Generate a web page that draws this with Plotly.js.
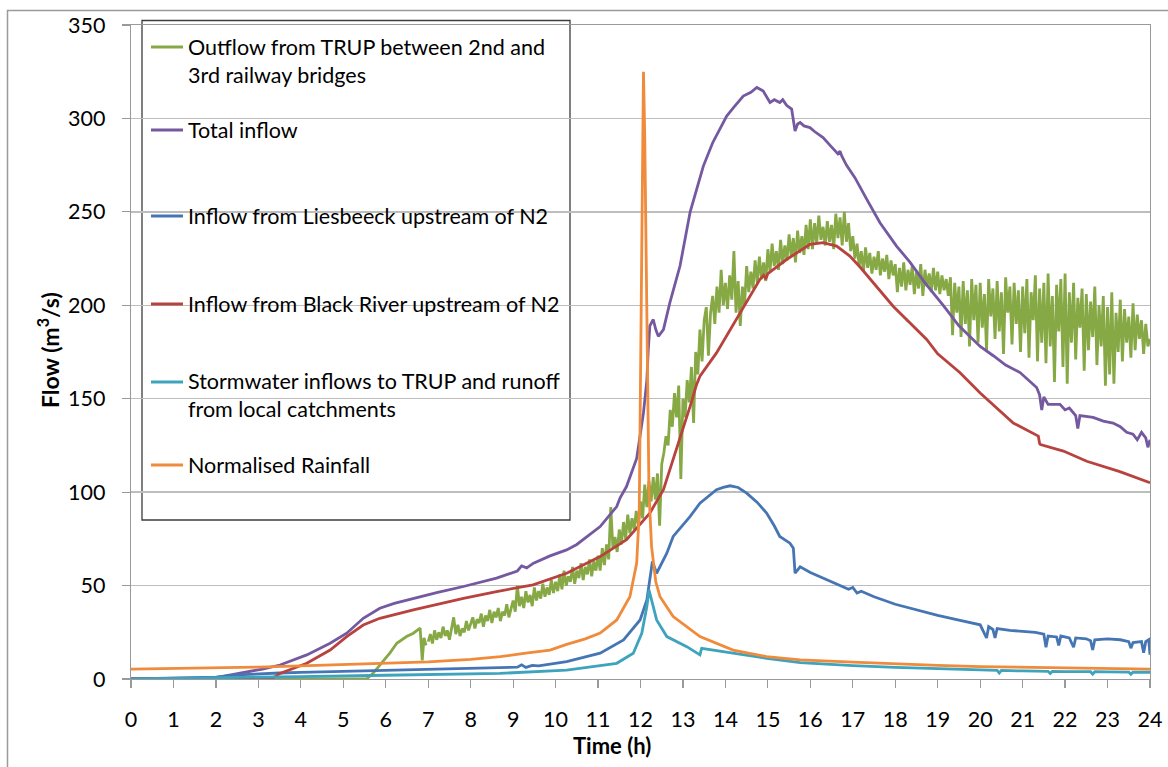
<!DOCTYPE html>
<html>
<head>
<meta charset="utf-8">
<script src="https://cdn.plot.ly/plotly-3.0.1.min.js"></script>
<style>
  html, body { margin: 0; padding: 0; background: #ffffff; }
  #chart { width: 1168px; height: 767px; }
</style>
</head>
<body>
<div id="chart"></div>
<script>
// ---- Series data (time in hours, flow in m3/s) ----

// Outflow from TRUP: initial filling, read point by point
const outflowEarlyT = [0, 3.0, 5.55, 5.7, 5.94, 6.1, 6.26, 6.49, 6.65, 6.81, 6.86, 6.9, 6.95];
const outflowEarlyQ = [0, 0, 0, 3, 9.3, 14, 19.1, 22.7, 24.5, 27.2, 10, 22, 18];

// Outflow from TRUP: logged every 0.05 h from 7 h, one row per hour
const outflowStart = 7.0;
const outflowStep = 0.05;
const outflowH7  = [20,24,19,26,21,25,22,28,23,26,21,27,33,24,29,23,27,25,31,26];
const outflowH8  = [29,33,27,32,30,35,28,34,31,37,30,36,33,38,31,36,34,40,33,38];
const outflowH9  = [42,36,50,39,44,38,47,41,45,39,49,42,47,43,51,44,49,45,53,46];
const outflowH10 = [52,47,56,48,58,50,55,52,60,51,58,54,62,53,60,56,64,55,63,58];
const outflowH11 = [66,58,70,61,72,64,92,70,76,68,80,72,84,75,88,78,86,80,90,82];
const outflowH12 = [95,86,104,92,106,95,108,96,110,82,115,121,130,125,144,135,153,140,157,107];
const outflowH13 = [150,140,160,148,167,137,175,163,187,170,192,199,173,196,205,190,210,196,219,200];
const outflowH14 = [212,198,216,203,229,196,213,189,210,200,221,207,218,209,224,212,226,214,223,213];
const outflowH15 = [230,218,233,221,229,219,235,222,232,224,238,226,236,223,240,228,237,227,243,230];
const outflowH16 = [246,230,244,233,248,235,242,232,245,234,243,230,249,236,247,232,250,234,244,229];
const outflowH17 = [237,225,233,221,229,218,231,220,228,217,226,219,229,216,225,218,227,214,224,216];
const outflowH18 = [222,207,220,210,223,208,219,211,221,206,218,209,222,205,219,210,217,207,220,208];
const outflowH19 = [218,206,216,208,214,205,215,184,212,196,210,183,213,190,208,178,214,192,211,180];
const outflowH20 = [212,188,206,176,214,194,209,182,213,186,207,174,215,196,210,179,212,190,208,175];
const outflowH21 = [210,185,214,172,207,192,216,170,209,180,212,169,217,178,205,159,211,186,214,167];
const outflowH22 = [217,158,207,180,212,171,204,188,209,165,206,176,202,183,210,168,200,178,205,157];
const outflowH23 = [199,163,207,158,196,175,203,170,198,180,194,172,201,176,195,182,192,174,190,178];
const outflowH24 = [182];

// Total inflow
const totalT = [0, 1.5, 2.0, 2.4, 2.72, 3.1, 3.51, 4.14, 4.69, 5.08, 5.47, 5.86, 6.2, 6.65, 7.2, 7.83, 8.61, 9.1, 9.2, 9.32, 9.48, 9.87, 10.26, 10.5, 11.05, 11.44, 11.52, 11.67, 11.91, 12.07, 12.15, 12.18, 12.22, 12.3, 12.36, 12.42, 12.54, 12.69, 12.93, 13.17, 13.4, 13.48, 13.7, 14.03, 14.2, 14.42, 14.6, 14.74, 14.89, 15.05, 15.15, 15.28, 15.35, 15.44, 15.56, 15.6, 15.64, 15.7, 15.76, 15.85, 15.99, 16.1, 16.3, 16.45, 16.54, 16.65, 16.7, 16.74, 16.85, 17.05, 17.33, 17.64, 18.03, 18.35, 18.7, 19.13, 19.5, 19.76, 20.0, 20.31, 20.6, 20.94, 21.2, 21.33, 21.4, 21.45, 21.5, 21.6, 21.88, 22.0, 22.1, 22.25, 22.3, 22.35, 22.66, 22.9, 23.13, 23.3, 23.45, 23.6, 23.7, 23.8, 23.9, 23.95, 24.0];
const totalQ = [0, 0, 0.8, 2.5, 3.9, 5.3, 7.5, 12.9, 19.1, 24.5, 32.5, 37.9, 40.5, 43.2, 46.2, 49.5, 54, 57.8, 60.5, 59.5, 62, 65.9, 69.1, 72, 81.6, 92.3, 97, 103, 118, 142.4, 160, 175, 189, 192.4, 187, 183.4, 187, 201.3, 221, 250, 267.4, 274.5, 287, 301.3, 306, 312, 314, 316.6, 314.7, 308.5, 310, 308.5, 310, 307, 305, 300, 293.3, 297, 297.8, 296, 295.1, 293, 289.7, 286, 283.5, 281, 282.5, 279.9, 275, 268.3, 256.7, 244.2, 231.7, 223, 212, 200, 189, 183, 178, 173, 168, 164, 159, 156, 152, 144, 151, 147, 147, 144, 145, 141, 134, 141, 140, 138, 137, 135, 132, 131, 128, 132, 129, 124, 128];

// Inflow from Liesbeeck upstream of N2
const liesT = [0, 1.0, 2.0, 2.5, 3.0, 3.5, 4.0, 5.0, 6.0, 7.0, 8.0, 8.7, 9.1, 9.2, 9.3, 9.45, 9.6, 10.26, 11.05, 11.6, 11.99, 12.15, 12.28, 12.38, 12.5, 12.62, 12.77, 12.95, 13.17, 13.4, 13.6, 13.79, 13.95, 14.11, 14.3, 14.5, 14.75, 14.97, 15.15, 15.28, 15.52, 15.6, 15.64, 15.76, 16.0, 16.3, 16.6, 16.9, 17.0, 17.1, 17.2, 17.5, 18.0, 18.5, 19.0, 19.5, 20.0, 20.15, 20.2, 20.3, 20.35, 20.4, 20.7, 21.0, 21.3, 21.5, 21.55, 21.6, 21.8, 21.85, 21.9, 22.1, 22.2, 22.25, 22.5, 22.6, 22.65, 22.7, 23.0, 23.3, 23.5, 23.55, 23.6, 23.8, 23.85, 23.9, 23.97, 24.0];
const liesQ = [0, 0.3, 1.0, 2.2, 2.8, 3.2, 3.5, 4.0, 4.5, 5.0, 5.5, 5.9, 6.3, 7.6, 6.2, 7.3, 7.0, 9.3, 13.8, 20.9, 31.6, 42.3, 62.9, 56.6, 62, 67.3, 76.3, 81, 87, 94.1, 98, 101.3, 102.5, 103.4, 102.5, 99.5, 94.5, 88.8, 82, 76.3, 72.7, 70, 56.6, 60, 57, 54, 51, 48, 49, 46, 47, 44, 40, 37, 34, 31.5, 29, 22, 28, 26.5, 22, 27, 26, 25.5, 25, 24, 17, 23, 22.5, 18, 23, 22, 17, 22, 21.5, 20.5, 15.5, 21, 21.5, 21, 20, 16.5, 19.5, 20, 14, 20, 21, 13];

// Inflow from Black River upstream of N2
const blackT = [0, 3.3, 3.51, 3.8, 4.14, 4.69, 5.08, 5.47, 5.86, 6.65, 7.2, 7.83, 8.61, 9.47, 10.26, 11.05, 11.67, 12.22, 12.54, 12.85, 13.17, 13.32, 13.4, 13.79, 14.34, 14.81, 14.9, 14.95, 15.0, 15.44, 15.99, 16.3, 16.62, 16.93, 17.17, 17.95, 18.74, 19.0, 19.52, 20.0, 20.78, 21.37, 21.4, 21.42, 21.96, 22.51, 23.29, 24.0];
const blackQ = [0, 0, 3.0, 5.5, 8.4, 15.5, 22.7, 28.9, 32.5, 37, 40, 43.2, 46.8, 50.4, 56.6, 65.5, 74.5, 88.8, 101.3, 123, 146, 157.5, 162, 174.5, 196, 213.8, 216, 214, 217, 224.5, 232.6, 233.5, 231.7, 226.3, 220.5, 199.5, 181.7, 174, 164, 153, 137, 130, 126, 125.5, 122, 116.5, 111, 105];

// Stormwater inflows to TRUP and runoff from local catchments
const stormT = [0, 2.0, 4.0, 6.0, 8.0, 8.69, 10.26, 11.44, 11.83, 12.03, 12.15, 12.2, 12.38, 12.62, 13.09, 13.4, 13.44, 14.18, 14.97, 15.76, 16.5, 17.0, 18.0, 19.0, 20.0, 20.4, 20.45, 20.5, 21.0, 21.6, 21.65, 21.7, 22.0, 22.6, 22.65, 22.7, 23.0, 23.5, 23.55, 23.6, 24.0];
const stormQ = [0, 0.5, 1.3, 2.0, 2.7, 3.0, 4.8, 8.4, 13.8, 24.5, 38.8, 47.7, 31.6, 22.7, 17.3, 12.9, 16.4, 13.8, 11.1, 8.8, 7.8, 7.2, 6.2, 5.5, 4.8, 4.6, 3.2, 4.6, 4.3, 4.1, 2.9, 4.1, 4.0, 3.9, 2.6, 3.9, 3.8, 3.7, 2.5, 3.7, 3.6];

// Normalised rainfall
const rainT = [0, 1, 2, 3, 4, 5, 6, 7, 8, 8.7, 9.3, 9.87, 10.26, 10.7, 11.05, 11.44, 11.75, 11.91, 11.97, 12.0, 12.03, 12.07, 12.1, 12.14, 12.17, 12.2, 12.26, 12.36, 12.46, 12.77, 13.4, 14.18, 14.97, 15.76, 17, 18, 19, 20, 21, 22, 23, 24];
const rainQ = [5.3, 5.6, 6.0, 6.4, 7.0, 7.6, 8.4, 9.2, 10.5, 12, 13.8, 15.5, 18.5, 21.5, 24.6, 31.6, 44, 62, 89, 150, 240, 325, 290, 200, 140, 100, 71, 52, 44, 33.4, 22.7, 15.5, 12, 10.2, 9, 8, 7.3, 6.6, 6.2, 5.9, 5.6, 5.3];

// Legend labels and colours
const seriesNames = [
  'Outflow from TRUP between 2nd and<br>3rd railway bridges',
  'Total inflow',
  'Inflow from Liesbeeck upstream of N2',
  'Inflow from Black River upstream of N2',
  'Stormwater inflows to TRUP and runoff<br>from local catchments',
  'Normalised Rainfall'
];
const seriesColors = ['#87A945', '#7559A0', '#4675B4', '#B8423D', '#3EA3BD', '#EF8B3B'];

// X axis ticks: hours 0..24
const hourTicks = [0,1,2,3,4,5,6,7,8,9,10,11,12,13,14,15,16,17,18,19,20,21,22,23,24];

const outflowRegular = [].concat(outflowH7, outflowH8, outflowH9, outflowH10, outflowH11,
  outflowH12, outflowH13, outflowH14, outflowH15, outflowH16, outflowH17, outflowH18,
  outflowH19, outflowH20, outflowH21, outflowH22, outflowH23, outflowH24);

const LW = 2.8;
function lineTrace(x, y, color, name) {
  return { x: x, y: y, type: 'scatter', mode: 'lines', name: name,
           line: { color: color, width: LW }, showlegend: false, hoverinfo: 'x+y' };
}

const traces = [
  lineTrace(outflowEarlyT, outflowEarlyQ, seriesColors[0], 'Outflow'),
  { y: outflowRegular, x0: outflowStart, dx: outflowStep, type: 'scatter', mode: 'lines',
    name: 'Outflow', line: { color: seriesColors[0], width: LW }, showlegend: false },
  lineTrace(totalT, totalQ, seriesColors[1], 'Total inflow'),
  lineTrace(liesT, liesQ, seriesColors[2], 'Liesbeeck'),
  lineTrace(blackT, blackQ, seriesColors[3], 'Black River'),
  lineTrace(stormT, stormQ, seriesColors[4], 'Stormwater'),
  lineTrace(rainT, rainQ, seriesColors[5], 'Rainfall')
];

// Plot area: 131..1150 px horizontally, 25..679 px vertically
const L = 131, R = 1150, T = 25, B = 679;
const px = v => (v - L) / (R - L);
const py = v => (B - v) / (B - T);

const FONT = 'Lato, "Open Sans", sans-serif';

// Hand-placed legend box (white panel with a dark border)
const legendRows = [
  { line: 47,  text: 61 },
  { line: 130, text: 130 },
  { line: 216, text: 216 },
  { line: 304, text: 304 },
  { line: 382, text: 394.5 },
  { line: 465, text: 465 }
];

const shapes = [
  // outer chart frame (left and top edges visible)
  { type: 'rect', xref: 'paper', yref: 'paper', x0: px(7.5), x1: px(1200), y0: py(800), y1: py(10.5),
    line: { color: '#9a9a9a', width: 1.5 }, fillcolor: 'rgba(0,0,0,0)', layer: 'below' },
  { type: 'rect', xref: 'paper', yref: 'paper', x0: px(142), x1: px(570), y0: py(520), y1: py(20.5),
    line: { color: '#3c3c3c', width: 1.3 }, fillcolor: '#ffffff', layer: 'between' }
];
const annotations = [];
legendRows.forEach((r, i) => {
  shapes.push({ type: 'line', xref: 'paper', yref: 'paper', x0: px(151), x1: px(183), y0: py(r.line), y1: py(r.line),
                line: { color: seriesColors[i], width: 3 }, layer: 'above' });
  annotations.push({ xref: 'paper', yref: 'paper', x: px(186), y: py(r.text), xanchor: 'left', yanchor: 'middle',
                     text: seriesNames[i], showarrow: false, align: 'left',
                     font: { family: FONT, size: 21.5, color: '#000000' } });
});
annotations.push({ xref: 'paper', yref: 'paper', x: px(48), y: py(350), textangle: -90,
                   xanchor: 'center', yanchor: 'middle', showarrow: false,
                   text: '<b>Flow (m<sup>3</sup>/s)</b>', font: { family: FONT, size: 23, color: '#000000' } });
annotations.push({ xref: 'paper', yref: 'paper', x: px(612), y: py(745), xanchor: 'center', yanchor: 'middle',
                   showarrow: false, text: '<b>Time (h)</b>', font: { family: FONT, size: 22, color: '#000000' } });

const layout = {
  width: 1168, height: 767,
  margin: { l: L, r: 1168 - R, t: T, b: 767 - B },
  paper_bgcolor: '#ffffff', plot_bgcolor: '#ffffff',
  showlegend: false,
  font: { family: FONT, size: 21, color: '#000000' },
  xaxis: {
    range: [0, 24], tickmode: 'array', tickvals: hourTicks, ticktext: hourTicks.map(String),
    showgrid: false, zeroline: false, showline: true, linecolor: '#9a9a9a', linewidth: 1.3,
    mirror: true, ticks: 'outside', ticklen: 8, tickcolor: '#9a9a9a', tickwidth: 1.2,
    tickfont: { family: FONT, size: 21.5, color: '#000000' }, ticklabelstandoff: 13
  },
  yaxis: {
    range: [0, 350], dtick: 50, tick0: 0,
    showgrid: true, gridcolor: '#bdbdbd', gridwidth: 1.3, zeroline: false,
    showline: true, linecolor: '#9a9a9a', linewidth: 1.3, mirror: true,
    ticks: 'outside', ticklen: 8, tickcolor: '#9a9a9a', tickwidth: 1.2,
    tickfont: { family: FONT, size: 21.5, color: '#000000' }, ticklabelstandoff: 12
  },
  shapes: shapes,
  annotations: annotations
};

Plotly.newPlot('chart', traces, layout, { displayModeBar: false, staticPlot: true });
</script>
</body>
</html>
